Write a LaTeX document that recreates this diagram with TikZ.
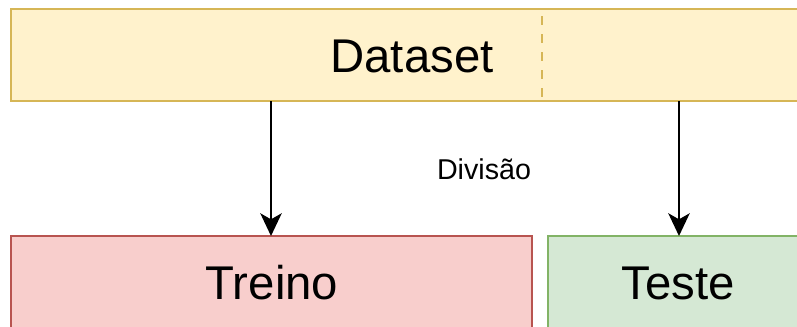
\documentclass[tikz,border=0pt]{standalone}
\usepackage{fontspec}
\setmainfont{Liberation Sans}
\usetikzlibrary{arrows.meta}
\definecolor{yfill}{HTML}{FFF2CC}
\definecolor{ydraw}{HTML}{D6B656}
\definecolor{rfill}{HTML}{F8CECC}
\definecolor{rdraw}{HTML}{B85450}
\definecolor{gfill}{HTML}{D5E8D4}
\definecolor{gdraw}{HTML}{82B366}
\tikzset{
  box/.style={draw, line width=1.1pt},
  bigtext/.style={font=\fontsize{35.5}{42}\selectfont, inner sep=0pt},
  flow/.style={line width=2pt, -{Stealth[length=17pt, width=16pt, inset=4.5pt]}},
}
\begin{document}
\begin{tikzpicture}[x=0.75pt, y=-0.75pt]
  \useasboundingbox (0,0) rectangle (797,326);
  \clip (0,0) rectangle (797,326);
  % dataset bar
  \path[box, draw=ydraw, fill=yfill] (11,9) rectangle (810,101);
  \draw[ydraw, line width=2.2pt, dash pattern=on 7pt off 6.5pt] (542,16) -- (542,100);
  \node[bigtext] (ds) at (412,56) {Dataset};
  % split parts
  \path[box, draw=rdraw, fill=rfill] (11,236) rectangle (532,340);
  \path[box, draw=gdraw, fill=gfill] (548,236) rectangle (810,340);
  \node[bigtext] (tr) at (272,283) {Treino};
  \node[bigtext] (te) at (678,283) {Teste};
  \node[font=\fontsize{21.5}{25}\selectfont, inner sep=0pt] (dv) at (484,169) {Divisão};
  % connectors
  \coordinate (a1) at (271,101);
  \coordinate (b1) at (271,236);
  \coordinate (a2) at (679,101);
  \coordinate (b2) at (679,236);
  \draw[flow] (a1) -- (b1);
  \draw[flow] (a2) -- (b2);
\end{tikzpicture}
\end{document}
